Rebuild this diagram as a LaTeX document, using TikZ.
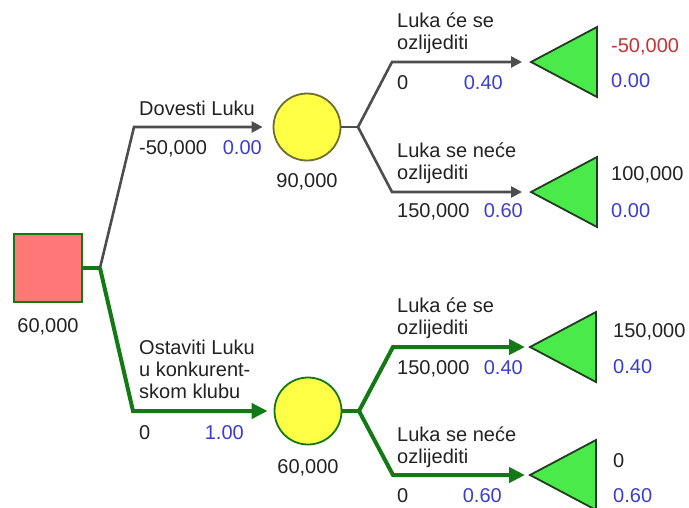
\documentclass[tikz,border=0pt]{standalone}
\usepackage{fontspec}
\setmainfont{Liberation Sans}
\usetikzlibrary{arrows.meta}
\definecolor{lgray}{HTML}{4D4D4D}
\definecolor{lgreen}{HTML}{127A12}
\definecolor{sqfill}{HTML}{FF7878}
\definecolor{cfill}{HTML}{FFFF46}
\definecolor{cborder}{HTML}{6E6E30}
\definecolor{tfill}{HTML}{4AEA4A}
\definecolor{tborder}{HTML}{203C20}
\definecolor{pblue}{HTML}{3C3CD2}
\definecolor{vred}{HTML}{C83232}
\definecolor{txt}{HTML}{222222}
\tikzset{
  lbl/.style={inner sep=0pt, anchor=base west, text=txt},
  lblr/.style={inner sep=0pt, anchor=base east, text=pblue},
  lblc/.style={inner sep=0pt, anchor=base, text=txt},
  gbr/.style={draw=lgray, line width=2.6pt, line join=miter},
  gbrarr/.style={gbr, -{Triangle[length=11pt,width=11pt]}},
  kbr/.style={draw=lgreen, line width=4pt, line join=miter},
  kbrarr/.style={kbr, -{Triangle[length=16pt,width=15pt]}},
  decbox/.style={draw=lgreen, line width=2.2pt, fill=sqfill, minimum size=68pt, inner sep=0pt},
  chnode/.style={circle, fill=cfill, line width=1.8pt, minimum size=67pt, inner sep=0pt},
  termtri/.style={fill=tfill, draw=tborder, line width=1.8pt, line join=miter}
}
\begin{document}
\begin{tikzpicture}[x=1pt,y=-1pt, font=\fontsize{20}{22}\selectfont]
\useasboundingbox (0,0) rectangle (689,507);

% nodes
\node[decbox] (d) at (48,268) {};
\node[chnode, draw=cborder] (c1) at (307,127) {};
\node[chnode, draw=lgreen] (c2) at (308,411) {};

% terminal tips
\coordinate (t1) at (531,62);
\coordinate (t2) at (531,192);
\coordinate (t3) at (530,347);
\coordinate (t4) at (530,475);
\foreach \t in {t1,t2,t3,t4}{
  \draw[termtri] (\t) -- ++(66,-35) -- ++(0,70) -- cycle;
}

% junctions and corners
\coordinate (jd) at (100,268);
\coordinate (kd1) at (134,127);
\coordinate (kd2) at (133,411);
\coordinate (j1) at (358,127);
\coordinate (k11) at (392,62);
\coordinate (k12) at (392,192);
\coordinate (j2) at (359,411);
\coordinate (k21) at (393,347);
\coordinate (k22) at (393,475);

% connectors
\draw[kbr] (d.east) -- (jd);
\draw[gbrarr, shorten >=10pt] (jd) -- (kd1) -- (kd1 -| c1.west);
\draw[kbrarr, shorten >=6pt] (jd) -- (kd2) -- (c2.west);
\draw[gbr] (c1.east) -- (j1);
\draw[gbrarr, shorten >=9pt] (j1) -- (k11) -- (t1);
\draw[gbrarr, shorten >=9pt] (j1) -- (k12) -- (t2);
\draw[kbr] (c2.east) -- (j2);
\draw[kbrarr, shorten >=5pt] (j2) -- (k21) -- (t3);
\draw[kbrarr, shorten >=5pt] (j2) -- (k22) -- (t4);

% decision labels
\node[lblc] (dv) at (48,332) {60,000};
\node[lbl] (a1) at (139,115) {Dovesti Luku};
\node[lbl] (a1v) at (139,154) {-50,000};
\node[lblr] (a1p) at (262,154) {0.00};
\node[lblc] (c1v) at (307,187) {90,000};

\node[lbl] (a2a) at (139,354) {Ostaviti Luku};
\node[lbl] (a2b) at (139,376) {u konkurent-};
\node[lbl] (a2c) at (139,398) {skom klubu};
\node[lbl] (a2v) at (139,439) {0};
\node[lblr] (a2p) at (244,439) {1.00};
\node[lblc] (c2v) at (308,473) {60,000};

% upper chance labels
\node[lbl] (b1a) at (397,27) {Luka će se};
\node[lbl] (b1b) at (397,49) {ozlijediti};
\node[lbl] (b1v) at (397,89) {0};
\node[lblr] (b1p) at (503,89) {0.40};
\node[lbl] (b2a) at (397,157) {Luka se neće};
\node[lbl] (b2b) at (397,179) {ozlijediti};
\node[lbl] (b2v) at (397,217) {150,000};
\node[lblr] (b2p) at (523,217) {0.60};

\node[lbl, text=vred] (t1v) at (611,52) {-50,000};
\node[lbl, text=pblue] (t1p) at (611,87) {0.00};
\node[lbl] (t2v) at (611,180) {100,000};
\node[lbl, text=pblue] (t2p) at (611,217) {0.00};

% lower chance labels
\node[lbl] (e1a) at (397,312) {Luka će se};
\node[lbl] (e1b) at (397,334) {ozlijediti};
\node[lbl] (e1v) at (397,374) {150,000};
\node[lblr] (e1p) at (523,374) {0.40};
\node[lbl] (e2a) at (397,441) {Luka se neće};
\node[lbl] (e2b) at (397,463) {ozlijediti};
\node[lbl] (e2v) at (397,502) {0};
\node[lblr] (e2p) at (502,502) {0.60};

\node[lbl] (t3v) at (613,337) {150,000};
\node[lbl, text=pblue] (t3p) at (613,373) {0.40};
\node[lbl] (t4v) at (613,467) {0};
\node[lbl, text=pblue] (t4p) at (613,502) {0.60};
\end{tikzpicture}
\end{document}
